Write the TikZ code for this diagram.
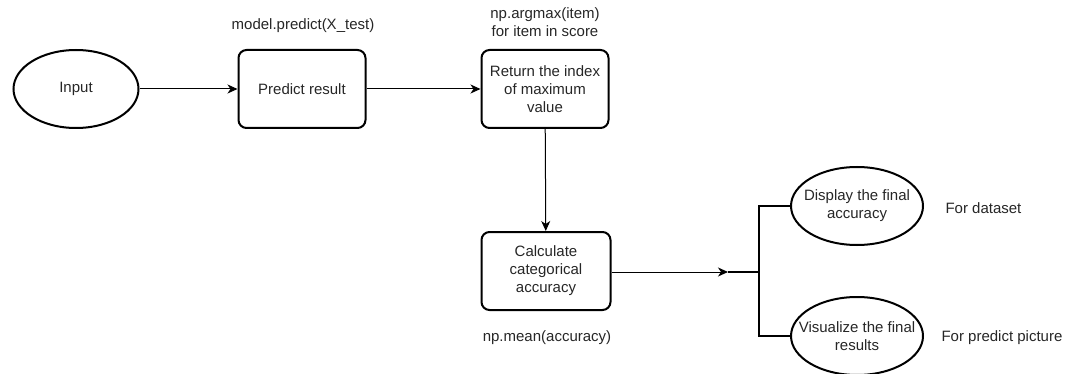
\documentclass[tikz,border=0pt]{standalone}
\usepackage{fontspec}
\setmainfont{Liberation Sans}
\usetikzlibrary{arrows.meta,shapes.geometric}
\tikzset{
  x=1pt, y=-1pt,
  base/.style={draw=black, line width=2pt, align=center, inner sep=2pt,
    font=\fontsize{15}{18}\selectfont, text=black!85},
  procbox/.style={base, rounded corners=8pt, minimum width=127pt, minimum height=78pt},
  oval/.style={base, ellipse, minimum width=125pt, minimum height=78pt,
    inner xsep=-14pt, inner ysep=-6pt},
  note/.style={font=\fontsize{15}{18}\selectfont, text=black!85, align=center},
  flow/.style={line width=1pt, -{Stealth[length=10pt,width=9pt,inset=3pt]}},
  branch/.style={line width=2pt},
}
\begin{document}
\begin{tikzpicture}
\useasboundingbox (0,0) rectangle (1070,374);

% main flow
\node[oval] (input) at (76,89) {Input};
\node[procbox] (pred) at (302,89) {Predict result};
\node[procbox] (ret) at (545,89) {Return the index\\of maximum\\value};
\node[procbox, minimum width=129pt] (calc) at (546,271) {Calculate\\categorical\\accuracy};

% outputs
\node[oval, minimum width=132pt] (disp) at (857,206) {Display the final\\accuracy};
\node[oval, minimum width=132pt] (vis) at (857,336) {Visualize the final\\results};

% annotations
\node[note] (n1) at (303,26) {model.predict(X\_test)};
\node[note] (n2) at (545,22) {np.argmax(item)\\for item in score};
\node[note] (n3) at (547,338) {np.mean(accuracy)};
\node[note, anchor=west] (n4) at (942,208) {For dataset};
\node[note, anchor=west] (n5) at (938,338) {For predict picture};

% junction of the branch
\coordinate (j) at (728,272);
\coordinate (s) at (759,272);
\coordinate (st) at (759,206);
\coordinate (sb) at (759,336);

\draw[flow] (input) -- (pred);
\draw[flow] (pred) -- (ret);
\draw[flow] (ret) -- (calc);
\draw[flow] (calc.east |- j) -- (j);
\draw[branch] (j) -- (s);
\draw[branch] (disp.west) -- (st) -- (sb) -- (vis.west);
\end{tikzpicture}
\end{document}
